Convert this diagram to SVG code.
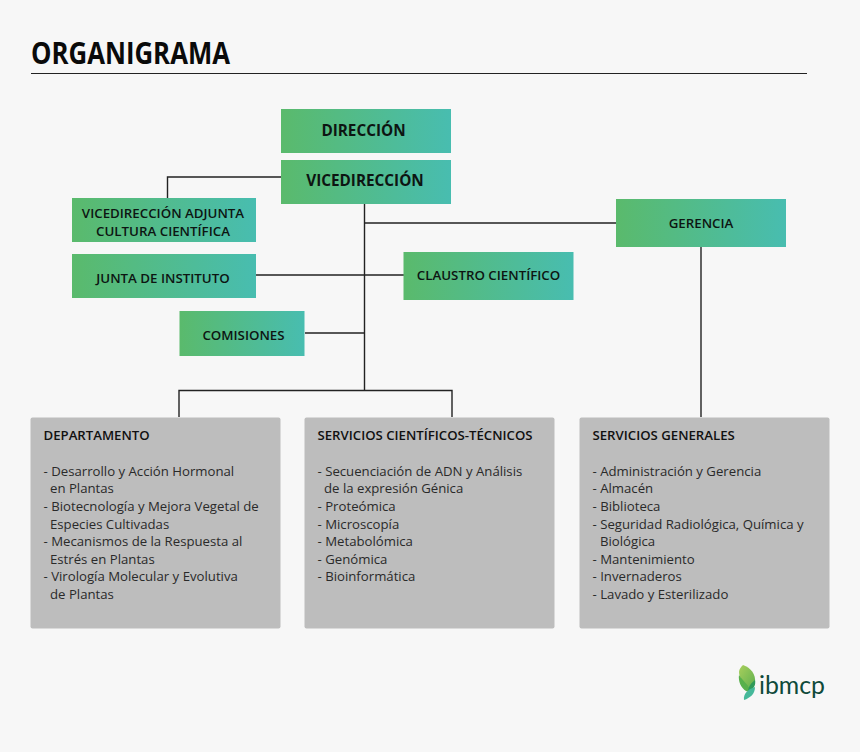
<svg xmlns="http://www.w3.org/2000/svg" width="860" height="752" viewBox="0 0 860 752">
<style>
text{font-family:"Open Sans","Noto Sans","Liberation Sans",sans-serif;fill:#1a1a1a}
.g{fill:url(#grad)}
.t{font-size:13.3px;font-weight:600;text-anchor:middle;fill:#0d1512}
.t2{font-size:15.3px;font-weight:700;text-anchor:middle;fill:#0d1512}
.b{fill:#bdbdbd}
.h{font-size:13.2px;font-weight:600;fill:#111}
.l{font-size:13.2px;fill:#2a2a2a}
.c{fill:none;stroke:#222;stroke-width:1.4}
</style>
<defs>
<linearGradient id="grad" x1="0" y1="0" x2="1" y2="0"><stop offset="0" stop-color="#5aba6c"/><stop offset="1" stop-color="#48bdb0"/></linearGradient>
<linearGradient id="leaf" x1="0" y1="0" x2="1" y2="1"><stop offset="0" stop-color="#a9cf5c"/><stop offset="1" stop-color="#5fb04f"/></linearGradient>
</defs>
<rect width="860" height="752" fill="#f7f7f7"/>
<text id="title" x="31" y="64" style="font-size:31px;font-weight:700;fill:#0a0a0a" textLength="199" lengthAdjust="spacingAndGlyphs">ORGANIGRAMA</text>
<path d="M31 73.500H807" stroke="#222" stroke-width="1.2" fill="none"/>
<g id="connectors">
<path class="c" d="M281 177H167.500V198"/>
<path class="c" d="M364.500 204V390"/>
<path class="c" d="M364.500 223H616"/>
<path class="c" d="M256 275H404"/>
<path class="c" d="M305 333H364.500"/>
<path class="c" d="M179 417V390.500H452V417"/>
<path class="c" d="M701 247V417"/>
</g>
<g id="direccion"><rect class="g" x="281" y="109" width="170" height="44"/><text class="t2" x="363.500" y="135.500">DIRECCIÓN</text></g>
<g id="vicedireccion"><rect class="g" x="281" y="160" width="170" height="44"/><text class="t2" x="365" y="186">VICEDIRECCIÓN</text></g>
<g id="adjunta"><rect class="g" x="72" y="198" width="184" height="44"/><text class="t" x="163" y="218">VICEDIRECCIÓN ADJUNTA</text><text class="t" x="163" y="235.500">CULTURA CIENTÍFICA</text></g>
<g id="junta"><rect class="g" x="72" y="254" width="184" height="44"/><text class="t" x="163" y="283">JUNTA DE INSTITUTO</text></g>
<g id="comisiones"><rect class="g" x="179.500" y="311" width="125" height="45"/><text class="t" x="243.500" y="340">COMISIONES</text></g>
<g id="claustro"><rect class="g" x="403.500" y="252" width="170" height="48"/><text class="t" x="488.500" y="279.500">CLAUSTRO CIENTÍFICO</text></g>
<g id="gerencia"><rect class="g" x="616" y="199" width="170" height="48"/><text class="t" x="701" y="228">GERENCIA</text></g>
<g id="departamento"><rect class="b" x="30.500" y="417.500" width="250" height="211" rx="2"/>
<text class="h" x="43.500" y="440">DEPARTAMENTO</text>
<text class="l" x="43.500" y="475.500">- Desarrollo y Acción Hormonal</text>
<text class="l" x="50" y="493">en Plantas</text>
<text class="l" x="43.500" y="511">- Biotecnología y Mejora Vegetal de</text>
<text class="l" x="50" y="528.500">Especies Cultivadas</text>
<text class="l" x="43.500" y="546">- Mecanismos de la Respuesta al</text>
<text class="l" x="50" y="564">Estrés en Plantas</text>
<text class="l" x="43.500" y="581">- Virología Molecular y Evolutiva</text>
<text class="l" x="50" y="599">de Plantas</text></g>
<g id="servicios-cientificos"><rect class="b" x="304.500" y="417.500" width="250" height="211" rx="2"/>
<text class="h" x="317.500" y="440">SERVICIOS CIENTÍFICOS-TÉCNICOS</text>
<text class="l" x="317.500" y="475.500">- Secuenciación de ADN y Análisis</text>
<text class="l" x="324" y="493">de la expresión Génica</text>
<text class="l" x="317.500" y="511">- Proteómica</text>
<text class="l" x="317.500" y="528.500">- Microscopía</text>
<text class="l" x="317.500" y="546">- Metabolómica</text>
<text class="l" x="317.500" y="564">- Genómica</text>
<text class="l" x="317.500" y="581">- Bioinformática</text></g>
<g id="servicios-generales"><rect class="b" x="579.500" y="417.500" width="250" height="211" rx="2"/>
<text class="h" x="592.500" y="440">SERVICIOS GENERALES</text>
<text class="l" x="592.500" y="475.500">- Administración y Gerencia</text>
<text class="l" x="592.500" y="493">- Almacén</text>
<text class="l" x="592.500" y="511">- Biblioteca</text>
<text class="l" x="592.500" y="528.500">- Seguridad Radiológica, Química y</text>
<text class="l" x="600" y="546">Biológica</text>
<text class="l" x="592.500" y="564">- Mantenimiento</text>
<text class="l" x="592.500" y="581">- Invernaderos</text>
<text class="l" x="592.500" y="599">- Lavado y Esterilizado</text></g>
<g id="logo">
<path d="M743 665C751 668 756 674 755 683C754 686 752 688 750 688C744 684 739 678 739 672C739 669 741 667 743 665Z" fill="url(#leaf)"/>
<path d="M739 675C743 681 749 686 751 690C751 692 748 692 746 691C741 688 738 681 739 675Z" fill="#58b04c"/>
<path d="M755 680C756 685 754 689 748 692C748 687 751 683 755 680Z" fill="#2f9a5a"/>
<path d="M755 687C755 694 750 698 744 700C743 694 748 689 755 687Z" fill="#45b89a"/>
<text x="759" y="694" style="font-family:Lato,'Open Sans',sans-serif;font-size:25px;font-weight:400;fill:#0f4a3a" textLength="66" lengthAdjust="spacingAndGlyphs">ibmcp</text>
</g>
</svg>
